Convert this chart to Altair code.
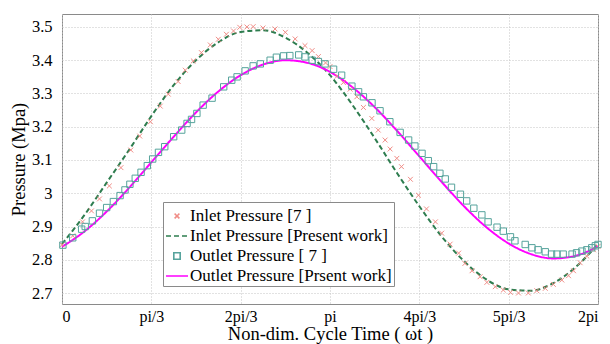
import altair as alt
import pandas as pd

# ---------------- data ----------------
S_IN7 = "Inlet Pressure [7  ]"
S_INP = "Inlet Pressure [Present work]"
S_OUT7 = "Outlet Pressure [ 7 ]"
S_OUTP = "Outlet Pressure [Prsent work]"
series_order = [S_IN7, S_INP, S_OUT7, S_OUTP]

# x in units of pi/3
curve_x = [0, 0.25, 0.5, 0.75, 1.0, 1.25, 1.5, 1.75, 2.0, 2.25, 2.5, 2.75, 3.0,
           3.25, 3.5, 3.75, 4.0, 4.25, 4.5, 4.75, 5.0, 5.25, 5.5, 5.75, 6.0]
inlet_present = [2.847, 2.934, 3.032, 3.130, 3.232, 3.325, 3.400, 3.454, 3.485,
                 3.490, 3.468, 3.422, 3.355, 3.266, 3.166, 3.061, 2.961, 2.870,
                 2.796, 2.741, 2.711, 2.707, 2.730, 2.778, 2.847]
outlet_present = [2.839, 2.885, 2.945, 3.016, 3.093, 3.170, 3.243, 3.306, 3.355,
                  3.387, 3.400, 3.392, 3.365, 3.319, 3.259, 3.188, 3.111, 3.034,
                  2.961, 2.898, 2.849, 2.817, 2.804, 2.812, 2.840]

inlet_ref_x = [0.0, 0.12, 0.23, 0.33, 0.42, 0.53, 0.66, 0.77, 0.87, 0.99, 1.10, 1.19,
               1.30, 1.38, 1.47, 1.56, 1.66, 1.75, 1.84, 1.92, 1.99, 2.07, 2.14, 2.25,
               2.385, 2.50, 2.61, 2.72, 2.80, 2.87, 2.95, 3.00, 3.08, 3.15, 3.225, 3.30,
               3.374, 3.468, 3.54, 3.617, 3.673, 3.748, 3.80, 3.90, 3.99, 4.08, 4.18,
               4.25, 4.345, 4.44, 4.51, 4.59, 4.68, 4.756, 4.85, 4.94, 5.02, 5.11, 5.22,
               5.315, 5.41, 5.50, 5.595, 5.67, 5.726, 5.80, 5.875, 5.95, 6.00]
inlet_ref_y = [2.845, 2.872, 2.914, 2.947, 2.983, 3.022, 3.077, 3.130, 3.172, 3.215,
               3.262, 3.298, 3.336, 3.370, 3.398, 3.423, 3.446, 3.463, 3.478, 3.488,
               3.499, 3.500, 3.501, 3.497, 3.494, 3.484, 3.464, 3.444, 3.429, 3.411,
               3.392, 3.381, 3.352, 3.333, 3.313, 3.290, 3.258, 3.225, 3.190, 3.160,
               3.133, 3.105, 3.080, 3.042, 2.994, 2.953, 2.914, 2.880, 2.847, 2.820,
               2.789, 2.767, 2.749, 2.732, 2.719, 2.709, 2.702, 2.700, 2.700, 2.707,
               2.714, 2.726, 2.739, 2.752, 2.767, 2.791, 2.811, 2.830, 2.840]

outlet_ref_x = [0.01, 0.12, 0.22, 0.26, 0.34, 0.42, 0.50, 0.575, 0.65, 0.705, 0.76,
                0.82, 0.885, 0.955, 1.015, 1.08, 1.15, 1.25, 1.34, 1.40, 1.45, 1.51,
                1.58, 1.68, 1.81, 1.90, 1.96, 2.05, 2.14, 2.22, 2.33, 2.40, 2.48, 2.55,
                2.65, 2.72, 2.80, 2.87, 2.945, 3.04, 3.13, 3.245, 3.32, 3.374, 3.47,
                3.56, 3.67, 3.785, 3.88, 3.95, 4.03, 4.10, 4.16, 4.23, 4.29, 4.36, 4.46,
                4.53, 4.61, 4.70, 4.77, 4.87, 4.94, 5.02, 5.07, 5.185, 5.26, 5.33, 5.41,
                5.48, 5.54, 5.61, 5.71, 5.76, 5.82, 5.875, 5.93, 5.97, 6.0]
outlet_ref_y = [2.844, 2.866, 2.892, 2.900, 2.917, 2.940, 2.957, 2.975, 2.993, 3.010,
                3.027, 3.045, 3.063, 3.083, 3.103, 3.123, 3.140, 3.170, 3.190, 3.210,
                3.222, 3.240, 3.265, 3.286, 3.320, 3.340, 3.350, 3.368, 3.383, 3.389,
                3.400, 3.409, 3.413, 3.414, 3.416, 3.410, 3.400, 3.396, 3.389, 3.373,
                3.355, 3.322, 3.305, 3.290, 3.272, 3.248, 3.215, 3.183, 3.160, 3.142,
                3.120, 3.098, 3.080, 3.060, 3.043, 3.018, 2.997, 2.977, 2.955, 2.935,
                2.914, 2.898, 2.886, 2.869, 2.857, 2.846, 2.836, 2.830, 2.824, 2.817,
                2.817, 2.817, 2.817, 2.821, 2.826, 2.830, 2.836, 2.842, 2.846]

x_tick_values = [0, 1, 2, 3, 4, 5, 6]
x_tick_labels = ["0", "pi/3", "2pi/3", "pi", "4pi/3", "5pi/3", "2pi"]
y_tick_values = [2.7, 2.8, 2.9, 3.0, 3.1, 3.2, 3.3, 3.4, 3.5]

# ---------------- tables ----------------
lines_df = pd.concat([
    pd.DataFrame({"t": curve_x, "p": inlet_present, "series": S_INP}),
    pd.DataFrame({"t": curve_x, "p": outlet_present, "series": S_OUTP}),
])
points_df = pd.concat([
    pd.DataFrame({"t": inlet_ref_x, "p": inlet_ref_y, "series": S_IN7}),
    pd.DataFrame({"t": outlet_ref_x, "p": outlet_ref_y, "series": S_OUT7}),
])

FONT = "Liberation Serif"
SYM_SIZE = 484  # sqrt -> 22 px legend line length
X_PATH = "M-0.22,-0.22L0.22,0.22M0.22,-0.22L-0.22,0.22"
SQ_PATH = "M-0.29,-0.29H0.29V0.29H-0.29Z"

color_scale = alt.Scale(domain=series_order,
                        range=["#f08c86", "#2e7d4f", "#56a39c", "#ff00ff"])
shape_scale = alt.Scale(domain=series_order,
                        range=[X_PATH, "stroke", SQ_PATH, "stroke"])
dash_scale = alt.Scale(domain=series_order,
                       range=[[1, 0], [5, 3], [1, 0], [1, 0]])

legend = alt.Legend(
    title=None, orient="none", legendX=101, legendY=188,
    fillColor="white", strokeColor="#8a8a8a", padding=2,
    labelFont=FONT, labelFontSize=17, labelColor="black", labelLimit=400,
    symbolStrokeWidth=1.6, symbolSize=SYM_SIZE, rowPadding=0, labelOffset=1,
)

x_enc = alt.X("t:Q", scale=alt.Scale(domain=[0, 6], nice=False),
              title="Non-dim. Cycle Time ( ωt )",
              axis=alt.Axis(values=x_tick_values,
                            labelExpr="%s[datum.value]" % str(x_tick_labels),
                            labelPadding=4, titlePadding=0, labelFontSize=16))
y_enc = alt.Y("p:Q", scale=alt.Scale(domain=[2.667, 3.539], nice=False, zero=False),
              title="Pressure (Mpa)",
              axis=alt.Axis(values=y_tick_values,
                            labelExpr="datum.value == 3 ? '3' : format(datum.value, '.1f')",
                            labelPadding=10, titlePadding=3))

lines = alt.Chart(lines_df).mark_line(strokeWidth=2, interpolate="monotone").encode(
    x=x_enc, y=y_enc,
    color=alt.Color("series:N", scale=color_scale, legend=legend),
    strokeDash=alt.StrokeDash("series:N", scale=dash_scale, legend=legend),
    detail="series:N",
)
points = alt.Chart(points_df).mark_point(
    filled=False, strokeWidth=1, opacity=1, size=SYM_SIZE
).encode(
    x=x_enc, y=y_enc,
    color=alt.Color("series:N", scale=color_scale, legend=legend),
    shape=alt.Shape("series:N", scale=shape_scale, legend=legend),
)

chart = alt.layer(lines, points).properties(
    width=536, height=290,
    autosize=alt.AutoSizeParams(type="none"),
    padding={"left": 62, "top": 14, "right": 12, "bottom": 40},
).configure_view(
    stroke="#8a8a8a", strokeWidth=1
).configure_axis(
    labelFont=FONT, titleFont=FONT, labelFontSize=16.5, titleFontSize=18.5,
    labelColor="black", titleColor="black", titleFontWeight="normal",
    domain=False, ticks=False,
    grid=True, gridColor="#c4c4c4", gridDash=[1, 2], gridWidth=1,
)

chart.save("out.html", embed_options={"renderer": "svg", "actions": False})
